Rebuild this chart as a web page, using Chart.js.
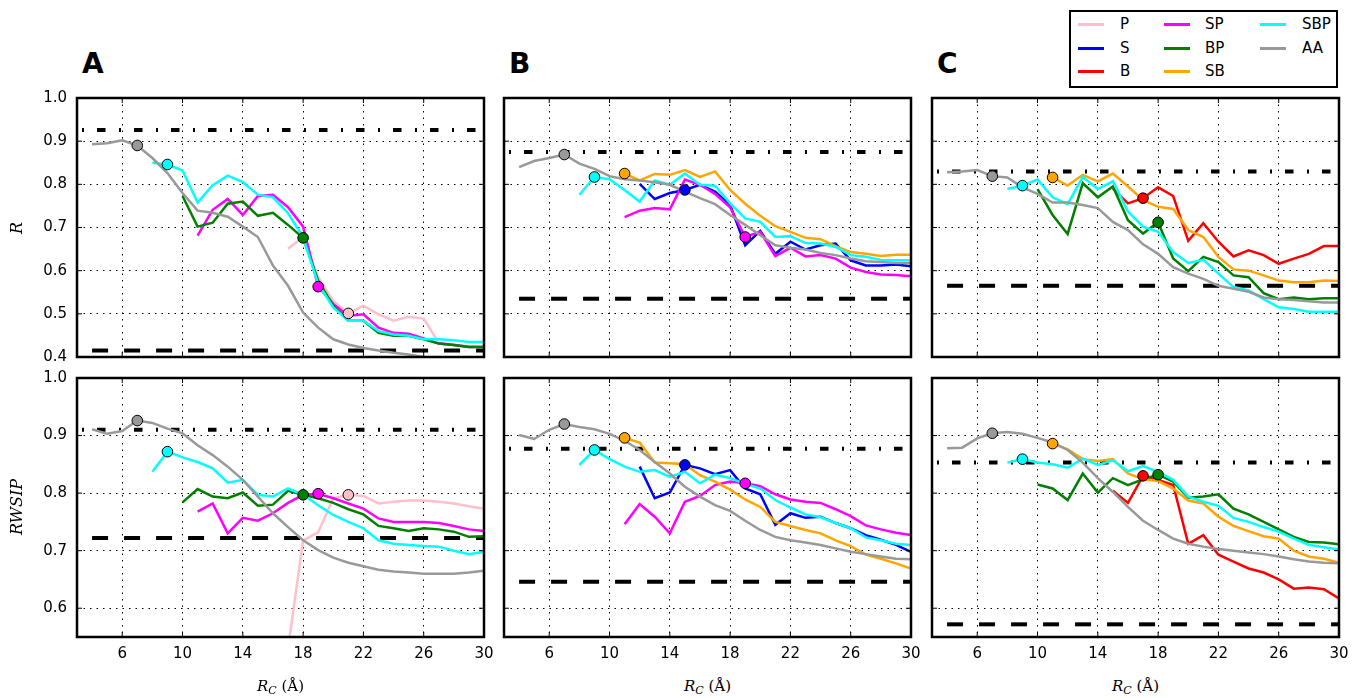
<!DOCTYPE html>
<html lang="en">
<head>
<meta charset="utf-8">
<title>R and RWSIP vs Rc</title>
<script src="https://cdn.jsdelivr.net/npm/chart.js@4.4.1/dist/chart.umd.min.js"></script>
<style>
  html, body { margin: 0; padding: 0; background: #fff; }
  body { width: 1354px; height: 698px; position: relative; overflow: hidden; font-family: "DejaVu Sans", sans-serif; }
  canvas { position: absolute; }
  .lbl { position: absolute; color: #000; white-space: nowrap; }
  .letter { font-weight: bold; font-size: 28px; line-height: 28px; }
  .ylab { width: 80px; height: 20px; line-height: 20px; text-align: center; font-family: "DejaVu Serif", serif; font-style: italic; font-size: 16px; transform: rotate(-90deg); }
  .xlab { width: 200px; text-align: center; font-family: "DejaVu Serif", serif; font-size: 15px; line-height: 18px; }
  .xlab sub { font-size: 11px; font-style: italic; vertical-align: -3px; }
  #legend { position: absolute; left: 1069px; top: 10px; width: 265px; height: 74px; border: 2px solid #000; background: #fff; }
  #legend .sw { position: absolute; width: 26px; height: 3px; }
  #legend .tx { position: absolute; font-size: 15px; line-height: 18px; }
</style>
</head>
<body>
<div id="legend"></div>

<script>
// ---------------- data -----------------
const RC = [4,5,6,7,8,9,10,11,12,13,14,15,16,17,18,19,20,21,22,23,24,25,26,27,28,29,30];
const X_TICKS = [6, 10, 14, 18, 22, 26, 30];
const Y_TICKS_R = [0.4, 0.5, 0.6, 0.7, 0.8, 0.9, 1.0];
const Y_TICKS_W = [0.6, 0.7, 0.8, 0.9, 1.0];

// series start at a given Rc, earlier Rc values are missing
function pad(startRc, vals) {
  return RC.map((x, i) => x < startRc ? null : vals[i - (startRc - RC[0])]);
}

// panel A, R
const A_R_AA  = pad(4,  [0.893,0.895,0.902,0.890,0.861,0.826,0.780,0.739,0.734,0.725,0.702,0.678,0.612,0.565,0.503,0.468,0.441,0.429,0.421,0.415,0.410,0.406,0.400,0.395,0.390,0.386,0.382]);
const A_R_SBP = pad(8,  [0.850,0.846,0.832,0.758,0.798,0.820,0.805,0.776,0.770,0.733,0.678,0.569,0.515,0.484,0.484,0.460,0.452,0.449,0.441,0.441,0.439,0.435,0.435]);
const A_R_BP  = pad(10, [0.773,0.702,0.711,0.755,0.760,0.727,0.734,0.706,0.676,0.577,0.519,0.484,0.484,0.456,0.449,0.449,0.441,0.431,0.428,0.423,0.423]);
const A_R_SP  = pad(11, [0.681,0.741,0.766,0.729,0.773,0.776,0.747,0.702,0.563,0.523,0.495,0.499,0.468,0.456,0.454,0.443,0.431,0.428,0.423,0.423]);
const A_R_P   = pad(17, [0.651,0.678,0.585,0.530,0.501,0.519,0.499,0.484,0.493,0.489,0.433,0.429,0.425,0.423]);
// panel A, RWSIP
const A_W_AA  = pad(4,  [0.911,0.903,0.908,0.926,0.922,0.912,0.904,0.883,0.866,0.846,0.823,0.794,0.765,0.741,0.718,0.701,0.688,0.679,0.673,0.667,0.664,0.662,0.660,0.660,0.660,0.662,0.665]);
const A_W_SBP = pad(8,  [0.837,0.872,0.862,0.854,0.843,0.818,0.823,0.797,0.794,0.808,0.797,0.779,0.762,0.750,0.739,0.718,0.712,0.710,0.708,0.707,0.700,0.694,0.698]);
const A_W_BP  = pad(10, [0.784,0.807,0.794,0.791,0.801,0.778,0.780,0.804,0.797,0.791,0.783,0.772,0.763,0.743,0.739,0.734,0.739,0.737,0.733,0.724,0.725]);
const A_W_SP  = pad(11, [0.768,0.782,0.730,0.757,0.752,0.765,0.783,0.797,0.799,0.791,0.782,0.773,0.756,0.750,0.750,0.750,0.748,0.743,0.737,0.734]);
const A_W_P   = pad(17, [0.530,0.718,0.732,0.791,0.797,0.795,0.782,0.785,0.787,0.787,0.785,0.782,0.777,0.773]);

// panel B, R
const B_R_AA  = pad(4,  [0.840,0.854,0.861,0.869,0.848,0.836,0.819,0.812,0.809,0.805,0.799,0.783,0.768,0.754,0.729,0.706,0.682,0.659,0.653,0.649,0.641,0.636,0.628,0.622,0.620,0.618,0.618]);
const B_R_SBP = pad(8,  [0.776,0.817,0.812,0.787,0.760,0.809,0.799,0.825,0.799,0.797,0.756,0.721,0.713,0.678,0.680,0.664,0.663,0.655,0.636,0.632,0.625,0.624,0.624]);
const B_R_SB  = pad(11, [0.825,0.809,0.824,0.822,0.833,0.817,0.830,0.787,0.755,0.727,0.703,0.690,0.676,0.673,0.657,0.643,0.639,0.634,0.637,0.637]);
const B_R_S   = pad(12, [0.801,0.766,0.780,0.787,0.799,0.783,0.752,0.659,0.692,0.639,0.667,0.649,0.659,0.663,0.624,0.612,0.612,0.614,0.610]);
const B_R_SP  = pad(11, [0.724,0.739,0.745,0.742,0.811,0.799,0.778,0.747,0.678,0.690,0.634,0.653,0.633,0.636,0.628,0.607,0.597,0.591,0.590,0.587]);
// panel B, RWSIP
const B_W_AA  = pad(4,  [0.901,0.894,0.910,0.920,0.915,0.911,0.903,0.891,0.875,0.854,0.834,0.811,0.794,0.779,0.769,0.752,0.736,0.724,0.718,0.714,0.710,0.704,0.698,0.694,0.690,0.686,0.685]);
const B_W_SBP = pad(8,  [0.849,0.875,0.859,0.846,0.837,0.840,0.828,0.837,0.817,0.832,0.826,0.816,0.808,0.788,0.775,0.763,0.758,0.748,0.739,0.723,0.718,0.712,0.710]);
const B_W_SB  = pad(11, [0.896,0.888,0.853,0.852,0.850,0.831,0.820,0.806,0.789,0.776,0.750,0.743,0.736,0.730,0.718,0.708,0.693,0.686,0.678,0.669]);
const B_W_S   = pad(12, [0.846,0.791,0.801,0.849,0.843,0.833,0.840,0.808,0.798,0.745,0.765,0.757,0.759,0.748,0.739,0.727,0.719,0.710,0.698]);
const B_W_SP  = pad(11, [0.746,0.781,0.759,0.730,0.785,0.795,0.814,0.820,0.817,0.812,0.798,0.789,0.785,0.783,0.772,0.760,0.744,0.737,0.731,0.727]);

// panel C, R
const C_R_AA  = pad(4,  [0.828,0.830,0.833,0.819,0.816,0.793,0.778,0.758,0.758,0.752,0.745,0.713,0.694,0.661,0.639,0.608,0.593,0.581,0.565,0.558,0.551,0.538,0.534,0.532,0.529,0.526,0.526]);
const C_R_SBP = pad(8,  [0.789,0.797,0.811,0.770,0.754,0.817,0.789,0.807,0.737,0.702,0.690,0.643,0.618,0.625,0.593,0.562,0.554,0.534,0.515,0.511,0.505,0.505,0.505]);
const C_R_SB  = pad(11, [0.816,0.797,0.822,0.807,0.825,0.795,0.764,0.748,0.743,0.694,0.678,0.632,0.603,0.600,0.589,0.577,0.573,0.573,0.577,0.576]);
const C_R_B   = pad(15, [0.790,0.756,0.768,0.793,0.773,0.669,0.710,0.667,0.633,0.647,0.636,0.616,0.628,0.639,0.657,0.657]);
const C_R_BP  = pad(10, [0.789,0.729,0.685,0.803,0.770,0.795,0.717,0.686,0.712,0.628,0.599,0.632,0.620,0.589,0.585,0.548,0.534,0.538,0.534,0.536,0.536]);
// panel C, RWSIP
const C_W_AA  = pad(4,  [0.878,0.879,0.895,0.904,0.906,0.903,0.896,0.888,0.875,0.853,0.826,0.802,0.776,0.752,0.736,0.721,0.712,0.707,0.703,0.700,0.697,0.694,0.690,0.685,0.681,0.679,0.678]);
const C_W_SBP = pad(8,  [0.853,0.859,0.853,0.850,0.844,0.860,0.849,0.857,0.838,0.847,0.837,0.823,0.794,0.785,0.778,0.757,0.750,0.741,0.733,0.721,0.710,0.706,0.702]);
const C_W_SB  = pad(11, [0.886,0.876,0.859,0.856,0.859,0.834,0.824,0.821,0.808,0.787,0.782,0.759,0.743,0.734,0.725,0.721,0.700,0.690,0.686,0.679]);
const C_W_B   = pad(15, [0.804,0.783,0.830,0.823,0.814,0.712,0.727,0.693,0.681,0.669,0.662,0.650,0.634,0.636,0.633,0.617]);
const C_W_BP  = pad(10, [0.815,0.808,0.788,0.834,0.801,0.826,0.814,0.824,0.832,0.820,0.792,0.794,0.798,0.773,0.763,0.750,0.737,0.724,0.715,0.714,0.711]);

// Rc of the highlighted point of each series
const A_MARK = { AA: 7, SBP: 9, BP: 18, SP: 19, P: 21 };
const B_MARK = { AA: 7, SBP: 9, SB: 11, S: 15, SP: 19 };
const C_MARK = { AA: 7, SBP: 9, SB: 11, B: 17, BP: 18 };

// reference levels [dash-dot, dashed]
const A_R_REF = [0.926, 0.415];
const A_W_REF = [0.910, 0.722];
const B_R_REF = [0.875, 0.535];
const B_W_REF = [0.877, 0.646];
const C_R_REF = [0.830, 0.565];
const C_W_REF = [0.853, 0.572];

const LEGEND_COLS = [['P', 'S', 'B'], ['SP', 'BP', 'SB'], ['SBP', 'AA']];

// ---------------- styles / layout -----------------
const COLORS = { P: '#ffc0cb', S: '#0000ff', B: '#ff0000', SP: '#ff00ff', BP: '#008000', SB: '#ffa500', SBP: '#00ffff', AA: '#999999' };
const DRAW_ORDER = ['AA', 'SBP', 'SB', 'BP', 'SP', 'B', 'S', 'P'];   // first one ends up on top
const COL_LEFT = [77, 504, 932];
const ROW_TOP = [98, 378];
const AREA_W = 407, AREA_H = 259;
const PAD_L = 60, PAD_T = 12, PAD_R = 14, PAD_B = 34;
const TICK_FONT = { family: 'DejaVu Sans', size: 15 };

const panels = [
  { col: 0, row: 0, series: { AA: A_R_AA, SBP: A_R_SBP, BP: A_R_BP, SP: A_R_SP, P: A_R_P }, mark: A_MARK, ref: A_R_REF },
  { col: 0, row: 1, series: { AA: A_W_AA, SBP: A_W_SBP, BP: A_W_BP, SP: A_W_SP, P: A_W_P }, mark: A_MARK, ref: A_W_REF },
  { col: 1, row: 0, series: { AA: B_R_AA, SBP: B_R_SBP, SB: B_R_SB, S: B_R_S, SP: B_R_SP }, mark: B_MARK, ref: B_R_REF },
  { col: 1, row: 1, series: { AA: B_W_AA, SBP: B_W_SBP, SB: B_W_SB, S: B_W_S, SP: B_W_SP }, mark: B_MARK, ref: B_W_REF },
  { col: 2, row: 0, series: { AA: C_R_AA, SBP: C_R_SBP, SB: C_R_SB, B: C_R_B, BP: C_R_BP }, mark: C_MARK, ref: C_R_REF },
  { col: 2, row: 1, series: { AA: C_W_AA, SBP: C_W_SBP, SB: C_W_SB, B: C_W_B, BP: C_W_BP }, mark: C_MARK, ref: C_W_REF }
];

// box with inward ticks on all four sides, like the original axes
const framePlugin = {
  id: 'frame',
  afterDraw(chart) {
    const { ctx, chartArea: a, scales } = chart;
    ctx.save();
    ctx.strokeStyle = '#000';
    ctx.lineWidth = 1;
    ctx.beginPath();
    X_TICKS.forEach(v => {
      const px = scales.x.getPixelForValue(v);
      ctx.moveTo(px, a.top); ctx.lineTo(px, a.top + 5);
      ctx.moveTo(px, a.bottom); ctx.lineTo(px, a.bottom - 5);
    });
    scales.y.ticks.forEach(t => {
      const py = scales.y.getPixelForValue(t.value);
      ctx.moveTo(a.left, py); ctx.lineTo(a.left + 5, py);
      ctx.moveTo(a.right, py); ctx.lineTo(a.right - 5, py);
    });
    ctx.stroke();
    ctx.lineWidth = 2.5;
    ctx.strokeRect(a.left, a.top, a.right - a.left, a.bottom - a.top);
    ctx.restore();
  }
};

function drawPanel(p) {
  const cv = document.createElement('canvas');
  cv.width = PAD_L + AREA_W + PAD_R;
  cv.height = PAD_T + AREA_H + PAD_B;
  cv.style.left = (COL_LEFT[p.col] - PAD_L) + 'px';
  cv.style.top = (ROW_TOP[p.row] - PAD_T) + 'px';
  document.body.appendChild(cv);

  const keys = DRAW_ORDER.filter(k => p.series[k]);
  const markPts = [], markCols = [];
  keys.forEach(k => {
    const i = RC.indexOf(p.mark[k]);
    markPts.push({ x: RC[i], y: p.series[k][i] });
    markCols.push(COLORS[k]);
  });

  const datasets = [{
    type: 'scatter', data: markPts, showLine: false,
    pointRadius: 5.3, pointBackgroundColor: markCols, pointBorderColor: '#000', pointBorderWidth: 1
  }];
  keys.forEach(k => {
    datasets.push({
      type: 'line', label: k,
      data: RC.map((x, i) => ({ x: x, y: p.series[k][i] })),
      borderColor: COLORS[k], borderWidth: 2.5, pointRadius: 0, fill: false, tension: 0
    });
  });
  datasets.push({
    type: 'line', data: [{ x: 3, y: p.ref[0] }, { x: 30, y: p.ref[0] }],
    borderColor: '#000', borderWidth: 4, borderDash: [8.5, 13.5, 2, 13], borderDashOffset: 17, pointRadius: 0
  });
  datasets.push({
    type: 'line', data: [{ x: 4, y: p.ref[1] }, { x: 30, y: p.ref[1] }],
    borderColor: '#000', borderWidth: 4, borderDash: [16, 16], pointRadius: 0
  });

  const yTicks = p.row === 0 ? Y_TICKS_R : Y_TICKS_W;
  new Chart(cv, {
    data: { datasets: datasets },
    options: {
      responsive: false, animation: false, events: [],
      layout: { padding: { top: PAD_T, right: PAD_R, left: 0, bottom: 0 } },
      plugins: { legend: { display: false }, tooltip: { enabled: false } },
      scales: {
        x: {
          type: 'linear', min: 3, max: 30,
          afterBuildTicks: s => { s.ticks = X_TICKS.map(v => ({ value: v })); },
          afterFit: s => { s.height = PAD_B; s.paddingLeft = 0; s.paddingRight = 0; },
          grid: { color: '#000', lineWidth: 1, drawTicks: false },
          border: { display: false, dash: [1.5, 5] },
          ticks: { display: p.row === 1, color: '#000', font: TICK_FONT, padding: 8, maxRotation: 0, callback: v => String(v) }
        },
        y: {
          type: 'linear', min: p.row === 0 ? 0.4 : 0.55, max: 1.0,
          afterBuildTicks: s => { s.ticks = yTicks.map(v => ({ value: v })); },
          afterFit: s => { s.width = PAD_L; s.paddingTop = 0; s.paddingBottom = 0; },
          grid: { color: '#000', lineWidth: 1, drawTicks: false },
          border: { display: false, dash: [1.5, 5] },
          ticks: { display: p.col === 0, color: '#000', font: TICK_FONT, padding: 10, callback: v => v.toFixed(1) }
        }
      }
    },
    plugins: [framePlugin]
  });
}

panels.forEach(drawPanel);

// ---------------- text -----------------
function addLabel(html, cls, left, top) {
  const d = document.createElement('div');
  d.className = 'lbl ' + cls;
  d.innerHTML = html;
  d.style.left = left + 'px';
  d.style.top = top + 'px';
  document.body.appendChild(d);
}
['A', 'B', 'C'].forEach((t, i) => addLabel(t, 'letter', COL_LEFT[i] + 5, 50));
addLabel('R', 'ylab', -23, 218);
addLabel('RWSIP', 'ylab', -23, 497);
COL_LEFT.forEach(L => addLabel('<i>R</i><sub>C</sub> (Å)', 'xlab', L + AREA_W / 2 - 100, 677));

// legend
const leg = document.getElementById('legend');
const ROW_Y = [12, 36, 59], SW_X = [7, 93, 189], TX_X = [49, 134, 231];
LEGEND_COLS.forEach((col, c) => col.forEach((k, r) => {
  const sw = document.createElement('div');
  sw.className = 'sw';
  sw.style.left = SW_X[c] + 'px';
  sw.style.top = (ROW_Y[r] - 1.5) + 'px';
  sw.style.background = COLORS[k];
  leg.appendChild(sw);
  const tx = document.createElement('div');
  tx.className = 'tx';
  tx.textContent = k;
  tx.style.left = TX_X[c] + 'px';
  tx.style.top = (ROW_Y[r] - 9) + 'px';
  leg.appendChild(tx);
}));
</script>
</body>
</html>
